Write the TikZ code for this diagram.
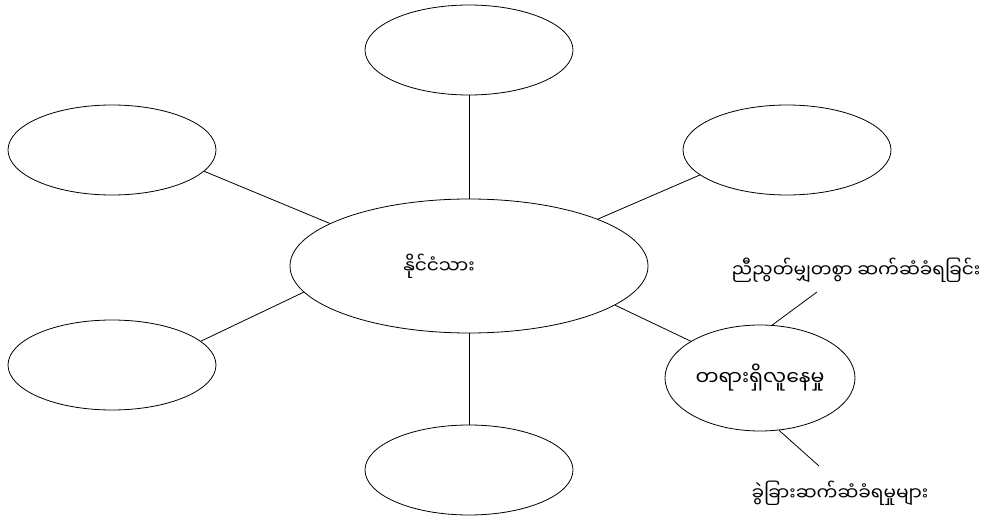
\documentclass[tikz,border=0pt]{standalone}
\usepackage{fontspec}
\newfontfamily\mmfont[Script=Myanmar]{Noto Sans Myanmar UI}
\usetikzlibrary{shapes.geometric}
\begin{document}
\begin{tikzpicture}[x=1pt,y=-1pt,
  bubble/.style={draw,ellipse,line width=0.8pt,inner sep=0pt,minimum width=208pt,minimum height=90pt},
  link/.style={line width=0.8pt},
  lbl/.style={inner sep=0pt,font=\mmfont\fontsize{18.5}{22}\selectfont}]
\useasboundingbox (0,0) rectangle (997,519);
\node[bubble] (top) at (469,50) {};
\node[bubble] (lu) at (112,150) {};
\node[bubble] (ru) at (787,150) {};
\node[bubble] (ll) at (112,365) {};
\node[bubble] (bot) at (469,470) {};
\node[bubble,minimum width=358pt,minimum height=134pt] (c) at (469,266) {};
\node[lbl,font=\mmfont\fontsize{18.5}{22}\selectfont] (ct) at (439,266) {နိုင်ငံသား};
\node[bubble,minimum width=190pt,minimum height=106pt,font=\mmfont\fontsize{20.5}{24}\selectfont] (rl) at (760,378) {တရားရှိလူနေမှု};
\node[lbl] (l1) at (856,270) {ညီညွတ်မျှတစွာ ဆက်ဆံခံရခြင်း};
\node[lbl] (l2) at (840,493) {ခွဲခြားဆက်ဆံခံရမှုများ};
\coordinate (e1) at (817,292);
\coordinate (e2) at (819,466);
\draw[link] (top.south) -- (c.north);
\draw[link] (bot.north) -- (c.south);
\draw[link] (lu.-13.5) -- (c.163.7);
\draw[link] (ru.-164.8) -- (c.20.1);
\draw[link] (ll.15.4) -- (c.189.6);
\draw[link] (rl.152.4) -- (c.-15.8);
\draw[link] (rl.77.7) -- (e1);
\draw[link] (rl.-70.3) -- (e2);
\end{tikzpicture}
\end{document}
